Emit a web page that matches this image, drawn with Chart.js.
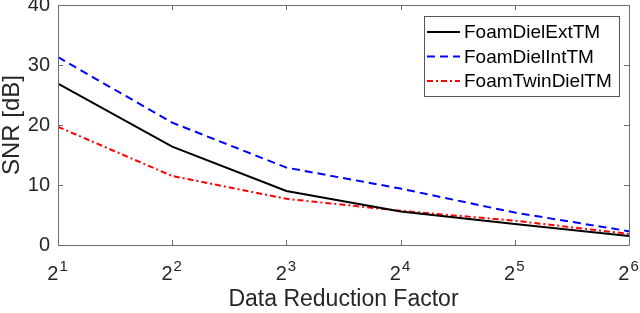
<!DOCTYPE html>
<html>
<head>
<meta charset="utf-8">
<script src="https://cdn.jsdelivr.net/npm/chart.js@4.4.1/dist/chart.umd.min.js"></script>
<style>
html,body{margin:0;padding:0;background:#fff;}
#wrap{width:640px;height:313px;position:relative;}
</style>
</head>
<body>
<div id="wrap"><canvas id="c" width="640" height="313"></canvas></div>
<script>
const factors = [2, 4, 8, 16, 32, 64];
const exponents = [1, 2, 3, 4, 5, 6];
const seriesNames = ['FoamDielExtTM', 'FoamDielIntTM', 'FoamTwinDielTM'];
const extTM = [26.9, 16.4, 9.0, 5.6, 3.5, 1.5];
const intTM = [31.3, 20.4, 12.9, 9.4, 5.4, 2.3];
const twinTM = [19.7, 11.5, 7.7, 5.7, 4.05, 1.85];
const yTicks = [0, 10, 20, 30, 40];
const xTitle = 'Data Reduction Factor';
const yTitle = 'SNR [dB]';

const FONT = "'Liberation Sans', Arial, Helvetica, sans-serif";
const TXT = '#262626';
const AXC = '#6e6e6e';

function pts(vals){ return factors.map((f,i)=>({x:f, y:vals[i]})); }

const framePlugin = {
  id: 'frame',
  afterDatasetsDraw(chart){
    const {ctx, chartArea:a, scales:{x, y}} = chart;
    ctx.save();
    ctx.strokeStyle = AXC;
    ctx.lineWidth = 1;
    ctx.beginPath();
    ctx.rect(Math.round(a.left)+0.5, Math.round(a.top)+0.5, Math.round(a.right-a.left), Math.round(a.bottom-a.top));
    ctx.stroke();
    const tl = 5;
    ctx.beginPath();
    factors.forEach(f=>{
      const px = Math.round(x.getPixelForValue(f))+0.5;
      ctx.moveTo(px, a.bottom); ctx.lineTo(px, a.bottom - tl);
      ctx.moveTo(px, a.top); ctx.lineTo(px, a.top + tl);
    });
    yTicks.forEach(v=>{
      const py = Math.round(y.getPixelForValue(v))+0.5;
      ctx.moveTo(a.left, py); ctx.lineTo(a.left + tl, py);
      ctx.moveTo(a.right, py); ctx.lineTo(a.right - tl, py);
    });
    ctx.stroke();

    // x tick labels: base 2 with superscript exponent
    ctx.fillStyle = TXT;
    ctx.textBaseline = 'alphabetic';
    factors.forEach((f, i)=>{
      const px = x.getPixelForValue(f);
      const base = '2', ex = String(exponents[i]);
      ctx.font = '20px ' + FONT;
      const wb = ctx.measureText(base).width;
      ctx.font = '15px ' + FONT;
      const we = ctx.measureText(ex).width;
      const left = px - (wb + we) / 2 - 1;
      ctx.font = '20px ' + FONT;
      ctx.textAlign = 'left';
      ctx.fillText(base, left, a.bottom + 35);
      ctx.font = '15px ' + FONT;
      ctx.fillText(ex, left + wb + 1, a.bottom + 26);
    });

    // legend
    const lx = 424, ly = 16, lw = 195, lh = 80;
    ctx.fillStyle = '#fff';
    ctx.fillRect(lx, ly, lw, lh);
    ctx.strokeStyle = '#555';
    ctx.strokeRect(lx+0.5, ly+0.5, lw, lh);
    ctx.font = '19px ' + FONT;
    ctx.textBaseline = 'middle';
    ctx.textAlign = 'left';
    chart.data.datasets.forEach((ds, i)=>{
      const cy = ly + 16 + i*24.5;
      ctx.save();
      ctx.strokeStyle = ds.borderColor;
      ctx.lineWidth = ds.borderWidth;
      ctx.setLineDash(ds.borderDash || []);
      ctx.beginPath();
      ctx.moveTo(lx+3, cy); ctx.lineTo(lx+36, cy);
      ctx.stroke();
      ctx.restore();
      ctx.fillStyle = '#000';
      ctx.fillText(ds.label, lx+40, cy+1);
    });
    ctx.restore();
  }
};

new Chart(document.getElementById('c'), {
  type: 'line',
  data: {
    datasets: [
      {label: seriesNames[0], data: pts(extTM), borderColor: '#000000', borderWidth: 2, pointRadius: 0, tension: 0, fill: false},
      {label: seriesNames[1], data: pts(intTM), borderColor: '#0000ff', borderWidth: 2, borderDash: [8,5], pointRadius: 0, tension: 0, fill: false},
      {label: seriesNames[2], data: pts(twinTM), borderColor: '#ff0000', borderWidth: 2, borderDash: [6,3,2,3], pointRadius: 0, tension: 0, fill: false}
    ]
  },
  options: {
    responsive: false,
    animation: false,
    layout: {padding: {top: 5, right: 11, left: 0, bottom: 0}},
    plugins: {legend: {display: false}, tooltip: {enabled: false}},
    scales: {
      x: {
        type: 'logarithmic',
        min: 2, max: 64,
        afterBuildTicks(scale){ scale.ticks = factors.map(v=>({value:v})); },
        afterFit(scale){ scale.height = 68; scale.paddingLeft = 0; scale.paddingRight = 0; },
        grid: {display: false, drawTicks: false},
        border: {display: false},
        ticks: {display: false},
        title: {display: true, text: xTitle, color: TXT, font: {family: FONT, size: 23, lineHeight: 1.0}, padding: {top: 0, bottom: 2}}
      },
      y: {
        min: 0, max: 40,
        afterBuildTicks(scale){ scale.ticks = yTicks.map(v=>({value:v})); },
        afterFit(scale){ scale.width = 58; scale.paddingTop = 0; scale.paddingBottom = 0; },
        grid: {display: false, drawTicks: false},
        border: {display: false},
        ticks: {padding: 8, color: TXT, font: {family: FONT, size: 20}},
        title: {display: true, text: yTitle, color: TXT, font: {family: FONT, size: 24, lineHeight: 1.0}, padding: {top: 0, bottom: 0}}
      }
    }
  },
  plugins: [framePlugin]
});
</script>
</body>
</html>
